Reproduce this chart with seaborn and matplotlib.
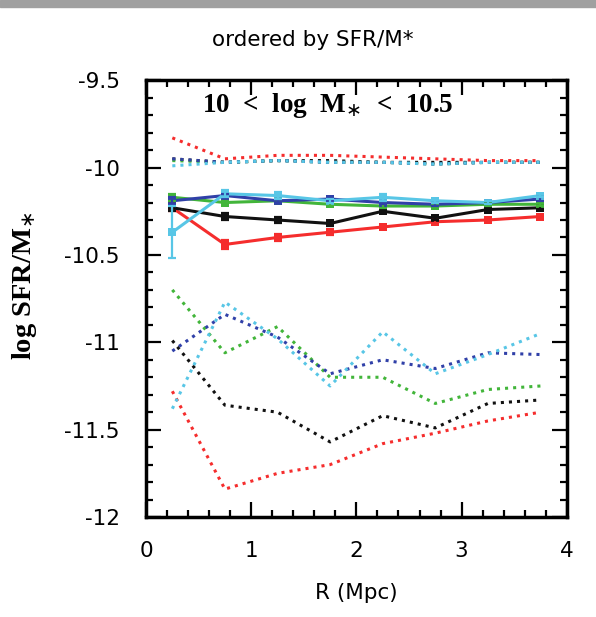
import numpy as np
import pandas as pd
import seaborn as sns
import matplotlib.pyplot as plt
from matplotlib.ticker import MultipleLocator
from matplotlib.patches import Rectangle

# radial bins (Mpc)
r_bins = [0.25, 0.75, 1.25, 1.75, 2.25, 2.75, 3.25, 3.75]
groups = ["red", "black", "green", "blue", "cyan"]

# median log SFR/M* (solid lines with error bars)
med_red = [-10.23, -10.44, -10.40, -10.37, -10.34, -10.31, -10.30, -10.28]
med_black = [-10.23, -10.28, -10.30, -10.32, -10.25, -10.29, -10.24, -10.23]
med_green = [-10.17, -10.20, -10.19, -10.21, -10.22, -10.22, -10.21, -10.21]
med_blue = [-10.19, -10.16, -10.19, -10.18, -10.20, -10.21, -10.20, -10.18]
med_cyan = [-10.37, -10.15, -10.16, -10.19, -10.17, -10.19, -10.20, -10.16]

err_red = [0.02, 0.025, 0.02, 0.015, 0.01, 0.01, 0.01, 0.01]
err_black = [0.02, 0.02, 0.015, 0.015, 0.01, 0.01, 0.01, 0.01]
err_green = [0.02, 0.01, 0.01, 0.01, 0.01, 0.01, 0.01, 0.01]
err_blue = [0.02, 0.01, 0.01, 0.01, 0.01, 0.01, 0.01, 0.01]
err_cyan = [0.15, 0.02, 0.02, 0.01, 0.02, 0.01, 0.01, 0.01]

# upper dotted envelopes
hi_red = [-9.83, -9.95, -9.93, -9.93, -9.94, -9.95, -9.96, -9.96]
hi_black = [-9.95, -9.97, -9.96, -9.96, -9.97, -9.97, -9.97, -9.97]
hi_green = [-9.96, -9.97, -9.96, -9.97, -9.97, -9.98, -9.97, -9.97]
hi_blue = [-9.95, -9.97, -9.96, -9.97, -9.97, -9.98, -9.97, -9.97]
hi_cyan = [-9.99, -9.97, -9.96, -9.97, -9.97, -9.98, -9.97, -9.97]

# lower dotted envelopes
lo_red = [-11.28, -11.84, -11.75, -11.70, -11.58, -11.52, -11.45, -11.40]
lo_black = [-10.99, -11.36, -11.40, -11.57, -11.42, -11.49, -11.35, -11.33]
lo_green = [-10.70, -11.06, -10.91, -11.20, -11.20, -11.35, -11.27, -11.25]
lo_blue = [-11.05, -10.84, -10.97, -11.18, -11.10, -11.15, -11.06, -11.07]
lo_cyan = [-11.38, -10.77, -10.98, -11.25, -10.94, -11.18, -11.07, -10.95]

colors = {"red": "#f52d2d", "black": "#111111", "green": "#42b53a",
          "blue": "#3040a8", "cyan": "#58c6e6"}

med = dict(zip(groups, [med_red, med_black, med_green, med_blue, med_cyan]))
err = dict(zip(groups, [err_red, err_black, err_green, err_blue, err_cyan]))
hi = dict(zip(groups, [hi_red, hi_black, hi_green, hi_blue, hi_cyan]))
lo = dict(zip(groups, [lo_red, lo_black, lo_green, lo_blue, lo_cyan]))

rows = []
for g in groups:
    for i, r in enumerate(r_bins):
        rows.append({"R": r, "group": g, "med": med[g][i], "err": err[g][i],
                     "hi": hi[g][i], "lo": lo[g][i]})
df = pd.DataFrame(rows)

sns.set_style("ticks")
plt.rcParams["font.family"] = ["DejaVu Sans"]
plt.rcParams["text.color"] = "black"
plt.rcParams["axes.labelcolor"] = "black"

fig = plt.figure(figsize=(5.96, 6.17), dpi=100)
ax = fig.add_axes([0.245, 0.162, 0.706, 0.708])

# screenshot strip at top
fig.patches.append(Rectangle((0, 0.988), 1, 0.012, transform=fig.transFigure,
                             color="#a0a0a0", zorder=0))

# dotted envelopes
for col in ["hi", "lo"]:
    sns.lineplot(data=df, x="R", y=col, hue="group", palette=colors,
                 hue_order=groups, ax=ax, legend=False, linestyle=":",
                 linewidth=2.2, zorder=2)

# medians with error bars
sns.lineplot(data=df, x="R", y="med", hue="group", palette=colors,
             hue_order=groups, ax=ax, legend=False, marker="s", markersize=6,
             markeredgewidth=0, linewidth=2.2, zorder=3)
for g in groups:
    sub = df[df["group"] == g]
    ax.errorbar(sub["R"], sub["med"], yerr=sub["err"], fmt="none",
                ecolor=colors[g], elinewidth=1.6, capsize=3, capthick=1.6,
                zorder=3)

ax.set_xlim(0, 4)
ax.set_ylim(-12, -9.5)
ax.xaxis.set_major_locator(MultipleLocator(1))
ax.xaxis.set_minor_locator(MultipleLocator(0.2))
ax.yaxis.set_minor_locator(MultipleLocator(0.1))
ax.set_yticks([-12, -11.5, -11, -10.5, -10, -9.5])
ax.set_yticklabels(["-12", "-11.5", "-11", "-10.5", "-10", "-9.5"])
ax.tick_params(which="both", direction="in", top=True, right=True,
               width=1.6, labelsize=15.5, colors="black")
ax.tick_params(which="major", length=11)
ax.tick_params(which="minor", length=5)
ax.tick_params(axis="x", which="major", pad=17)
ax.tick_params(axis="y", which="major", pad=19)
for s in ax.spines.values():
    s.set_linewidth(2.5)
    s.set_color("black")

ax.set_xlabel("R (Mpc)", fontsize=15.5, labelpad=16)
ax.set_ylabel("log SFR/M$_{\\ast}$", fontsize=20.5, fontweight="bold",
              family=["Liberation Serif", "DejaVu Serif"])
ax.yaxis.set_label_coords(-0.255, 0.53)
ax.text(0.133, 0.943, "10  <  log  M$_{\\ast}$  <  10.5", transform=ax.transAxes,
        fontsize=19.5, fontweight="bold", family=["Liberation Serif", "DejaVu Serif"],
        va="center", ha="left")
fig.text(0.524, 0.935, "ordered by SFR/M*", ha="center", va="center",
         fontsize=15.5)

fig.savefig("out.png", dpi=100)
